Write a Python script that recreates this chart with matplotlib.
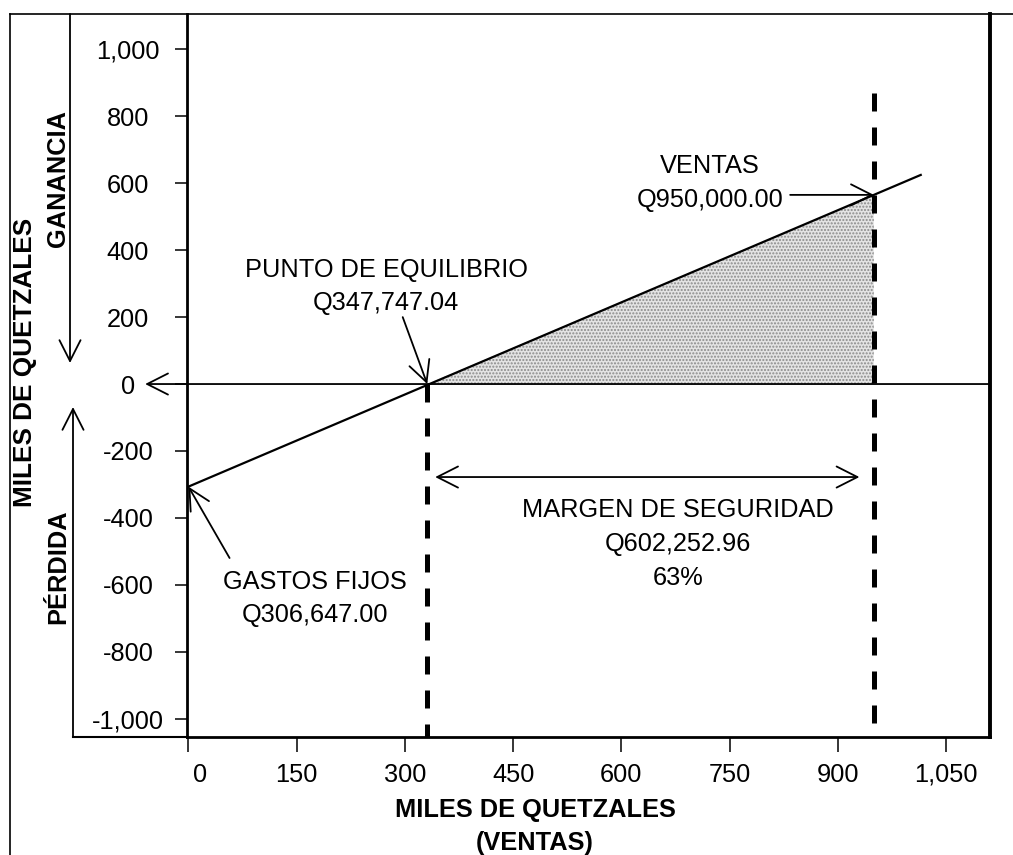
import matplotlib
matplotlib.use("Agg")
import matplotlib.pyplot as plt
from matplotlib.lines import Line2D
from matplotlib.patches import FancyArrowPatch
from matplotlib.ticker import FixedLocator, FuncFormatter
from matplotlib.transforms import ScaledTranslation

plt.rcParams['font.family'] = ['Liberation Sans', 'DejaVu Sans']

# ---- data (thousands of quetzales) ----
x_ticks = [0, 150, 300, 450, 600, 750, 900, 1050]
y_ticks = [1000, 800, 600, 400, 200, 0, -200, -400, -600, -800, -1000]
line_x = [0, 1015]            # profit line as drawn
line_y = [-306.647, 625]
fixed_costs = 306.647
break_even = 331              # position of break-even as drawn
sales = 950
sales_profit = -306.647 + (625 + 306.647) * 950 / 1015
label_be = ["PUNTO DE EQUILIBRIO", "Q347,747.04"]
label_sales = ["VENTAS", "Q950,000.00"]
label_margin = ["MARGEN DE SEGURIDAD", "Q602,252.96", "63%"]
label_fixed = ["GASTOS FIJOS", "Q306,647.00"]

W, H = 1013, 855
fig = plt.figure(figsize=(W / 100, H / 100), dpi=100)
ax = fig.add_axes([187 / W, 1 - 737 / H, (990 - 187) / W, (737 - 14) / H])
ax.set_xlim(-2, 1111)
ax.set_ylim(-1055, 1106)

FS = 18.3
BFS = 18.3
AST = '->,head_length=0.75,head_width=0.38'

# shaded profit area
ax.fill_between([break_even, sales], [0, 0], [0, sales_profit],
                facecolor='#e4e4e4', edgecolor='#8a8a8a', hatch='.....', linewidth=0, zorder=1)

# profit line
ax.plot(line_x, line_y, color='black', lw=1.6, zorder=3, clip_on=False)

arrow = dict(arrowstyle=AST, lw=1.3, color='black', shrinkA=0, shrinkB=0, mutation_scale=20)

# zero line with arrow to the left (outside axes)
ax.annotate('', xy=(-60, 0), xytext=(1111, 0), xycoords='data', annotation_clip=False,
            arrowprops=arrow, zorder=3)

# dashed lines
ax.plot([break_even, break_even], [0, -1055], color='black', lw=3.6, dashes=(3.6, 3.2), zorder=4,
        dash_capstyle='butt')
ax.plot([sales, sales], [870, -1055], color='black', lw=3.6, dashes=(3.6, 3.2), zorder=4,
        dash_capstyle='butt')

# break-even annotation
ax.annotate('', xy=(break_even, 0), xytext=(297, 200), arrowprops=arrow)
ax.text(274, 320, label_be[0], ha='center', va='baseline', fontsize=FS)
ax.text(274, 221, label_be[1], ha='center', va='baseline', fontsize=FS)

# sales annotation
ax.annotate('', xy=(sales, sales_profit), xytext=(834, sales_profit), arrowprops=arrow)
ax.text(723, 631, label_sales[0], ha='center', va='baseline', fontsize=FS)
ax.text(723, 529, label_sales[1], ha='center', va='baseline', fontsize=FS)

# margin of safety
ax.annotate('', xy=(342, -278), xytext=(930, -278),
            arrowprops=dict(arrowstyle='<->,head_length=0.75,head_width=0.38', lw=1.3,
                            color='black', shrinkA=0, shrinkB=0, mutation_scale=20))
for txt, yy in zip(label_margin, [-398, -499, -601]):
    ax.text(679, yy, txt, ha='center', va='baseline', fontsize=FS)

# fixed costs
ax.annotate('', xy=(0, -fixed_costs), xytext=(57, -520), arrowprops=arrow, annotation_clip=False)
ax.text(175, -613, label_fixed[0], ha='center', va='baseline', fontsize=FS)
ax.text(175, -711, label_fixed[1], ha='center', va='baseline', fontsize=FS)

# ticks
ax.xaxis.set_major_locator(FixedLocator(x_ticks))
ax.yaxis.set_major_locator(FixedLocator(y_ticks))
fmt = FuncFormatter(lambda v, p: f'{v:,.0f}')
ax.xaxis.set_major_formatter(fmt)
ax.yaxis.set_major_formatter(fmt)
ax.tick_params(axis='x', direction='out', length=10.5, width=1.1, pad=8, labelsize=FS)
ax.tick_params(axis='y', direction='out', length=8.5, width=1.1, pad=34, labelsize=FS)
for lab in ax.get_yticklabels():
    lab.set_horizontalalignment('center')
fig.canvas.draw()
xl = ax.get_xticklabels()[0]
xl.set_transform(xl.get_transform() + ScaledTranslation(12 / 100, 0, fig.dpi_scale_trans))

ax.spines['top'].set_visible(False)
ax.spines['left'].set_linewidth(2.0)
ax.spines['bottom'].set_linewidth(2.0)
ax.spines['right'].set_linewidth(2.8)

# x label
fig.text(535 / W, 1 - 817 / H, "MILES DE QUETZALES", ha='center', va='baseline',
         fontsize=BFS, fontweight='bold')
fig.text(535 / W, 1 - 850 / H, "(VENTAS)", ha='center', va='baseline',
         fontsize=BFS, fontweight='bold')

# y labels
fig.text(25 / W, 1 - 362 / H, "MILES DE QUETZALES", ha='center', va='center', rotation=90,
         fontsize=BFS + 0.5, fontweight='bold')
fig.text(58 / W, 1 - 178 / H, "GANANCIA", ha='center', va='center', rotation=90,
         fontsize=BFS, fontweight='bold')
fig.text(58 / W, 1 - 567 / H, "PÉRDIDA", ha='center', va='center', rotation=90,
         fontsize=BFS, fontweight='bold')


def fx(px):
    return px / W


def fy(py):
    return 1 - py / H


# frame lines
fig.add_artist(Line2D([fx(10), fx(1013)], [fy(14), fy(14)], color='black', lw=1.2))
fig.add_artist(Line2D([fx(10), fx(10)], [fy(14), fy(855)], color='black', lw=1.2))
fig.add_artist(Line2D([fx(73), fx(188)], [fy(737), fy(737)], color='black', lw=1.5))

# ganancia / perdida arrows
fig.add_artist(FancyArrowPatch((fx(70), fy(14)), (fx(70), fy(363)),
               transform=fig.transFigure, **arrow))
fig.add_artist(FancyArrowPatch((fx(73), fy(737)), (fx(73), fy(407)),
               transform=fig.transFigure, **arrow))

fig.savefig('out.png', dpi=100)
